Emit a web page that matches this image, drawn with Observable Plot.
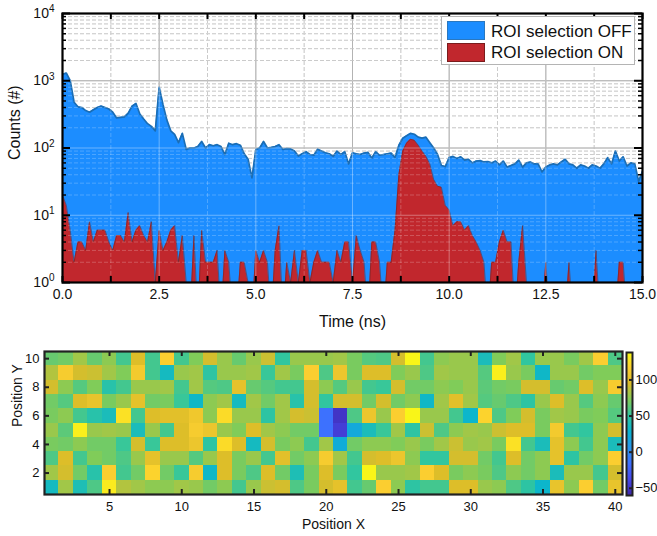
<!DOCTYPE html>
<html><head><meta charset="utf-8">
<script src="https://cdn.jsdelivr.net/npm/d3@7"></script>
<script src="https://cdn.jsdelivr.net/npm/@observablehq/plot@0.6"></script>
<style>
body{margin:0;background:#fff;font-family:"Liberation Sans",Arial,sans-serif;}
#wrap{position:relative;width:657px;height:536px;overflow:hidden;}
#top{position:absolute;left:0;top:0;}
#bottom{position:absolute;left:0;top:336px;}
#cbar{position:absolute;left:612px;top:336px;}
#legend{position:absolute;left:441px;top:16px;width:194px;height:49px;border:1px solid #b4b4b4;background:#fff;box-sizing:border-box;}
#legend .sw{position:absolute;left:5px;width:38px;height:19px;box-sizing:border-box;}
#legend .lb{position:absolute;left:49px;font-size:17px;line-height:19px;color:#111;white-space:nowrap;}
</style></head><body>
<div id="wrap">
  <div id="top"></div>
  <div id="bottom"></div>
  <div id="cbar"></div>
  <div id="legend">
    <div class="sw" style="top:4px;background:#1c8dff;border:1px solid #2a78c0"></div>
    <div class="lb" style="top:5px">ROI selection OFF</div>
    <div class="sw" style="top:26px;background:#c1272d;border:1px solid #7a1c1c"></div>
    <div class="lb" style="top:26px">ROI selection ON</div>
  </div>
</div>
<script>
// ---------- top panel data: time bins (ns) and counts ----------
const timeBins = d3.range(151).map(i => i / 10);
const countsOff = [
  1250,1300,1000,480,410,400,360,340,370,400,
  420,400,380,340,280,285,290,330,420,460,
  320,270,230,210,180,800,440,260,180,160,
  120,165,95,100,100,105,125,100,112,108,
  112,105,80,118,112,116,110,82,68,36,
  95,100,125,100,102,105,112,95,98,97,
  90,76,82,88,80,78,96,90,85,82,
  75,90,80,88,58,85,82,80,84,86,
  71,88,78,80,82,84,72,110,140,152,
  165,160,145,140,145,120,100,80,55,53,
  72,75,70,74,66,68,60,64,65,62,
  63,60,64,56,64,52,55,58,66,52,
  60,62,58,58,44,52,56,58,56,62,
  68,58,56,50,56,54,50,56,54,50,
  58,72,58,90,64,74,54,60,58,32,
  45
];
const countsOn = [
  20,14,6,2,4,4,3,8,4,6,
  6,6,4,3,5,5,4,11,4,6,
  7,5,4,8,1,6,3,4,6,7,
  2,5,1,0,5,0,6,2,2,2,
  3,0,3,2,0,0,2,2,1,0,
  3,2,3,2,0,3,7,0,2,1,
  3,1,3,3,1,2,3,2,2,2,
  1,3,2,4,4,1,5,3,2,0,
  4,4,2,0,2,2,6,40,90,118,
  135,130,110,90,75,58,34,27,26,14,
  12,7,8,8,6,7,5,4,3,2,
  0,2,2,4,6,4,4,0,2,7,
  1,0,0,0,0,2,0,0,0,0,
  0,2,0,0,0,0,0,0,3,0,
  0,0,0,0,2,2,0,0,0,0,
  0
];
const xMajorTicks = [0, 2.5, 5, 7.5, 10, 12.5, 15];
const xMinorTicks = [1.25, 3.75, 6.25, 8.75, 11.25, 13.75];
const yMajorTicks = [1, 10, 100, 1000, 10000];
const yMinorTicks = [1, 10, 100, 1000].flatMap(d => [2,3,4,5,6,7,8,9].map(m => m * d));

// ---------- bottom panel data: heat map rows (Position Y = 1 .. 10) ----------
const posX = d3.range(1, 41);
const posY = d3.range(1, 11);
const row1  = [35,80,40,58,130,84,80,75,75,80,78,68,75,55,78,90,92,58,70,92,100,55,65,115,75,48,55,55,95,95,78,75,58,48,30,102,75,115,68,102];
const row2  = [80,92,68,45,115,55,68,118,68,52,112,32,95,70,58,95,68,40,70,95,70,50,135,78,78,80,115,95,70,75,70,58,75,68,75,38,78,78,55,92];
const row3  = [58,95,55,72,68,58,78,100,78,78,60,78,95,70,78,55,98,68,75,112,80,55,92,95,105,75,50,50,92,92,68,55,95,68,75,100,48,68,75,115];
const row4  = [70,68,75,68,68,52,92,52,95,95,105,48,122,95,35,92,70,75,55,80,22,68,75,75,72,78,70,80,90,78,80,70,125,55,38,100,75,55,75,38];
const row5  = [78,62,132,78,80,78,38,78,55,95,112,105,78,72,95,80,75,68,68,-15,-45,20,38,52,80,48,90,58,75,80,78,90,95,95,70,110,55,50,75,92];
const row6  = [70,75,55,45,38,125,55,95,98,98,108,75,122,78,78,48,80,92,90,-15,-50,58,105,78,115,135,78,78,55,30,118,58,72,92,70,80,78,70,72,60];
const row7  = [68,60,95,102,70,78,100,68,70,52,32,75,80,35,80,68,80,45,92,50,92,92,68,92,68,75,32,80,98,80,60,65,58,48,78,95,78,60,75,65];
const row8  = [92,75,60,72,45,55,78,78,80,55,80,60,58,100,65,60,55,55,92,75,60,78,55,52,92,68,68,75,72,78,62,68,70,92,92,65,68,95,78,112];
const row9  = [84,112,92,90,80,72,110,55,35,78,80,48,78,78,80,52,80,70,115,58,105,70,95,95,72,78,58,80,78,78,60,132,78,70,32,78,78,68,72,72];
const row10 = [65,68,80,65,75,55,95,55,115,55,72,92,78,65,78,90,50,78,78,78,80,70,60,58,92,135,55,75,78,78,38,72,80,50,78,78,70,80,115,58];
const heatRows = [row1,row2,row3,row4,row5,row6,row7,row8,row9,row10];
const heatXTicks = [5,10,15,20,25,30,35,40];
const heatYTicks = [2,4,6,8,10];
const colorbarTicks = [-50, 0, 50, 100];
const colorExtent = [-60, 138];
const parula = ["#3e26a8","#4747eb","#3e6fff","#2796eb","#08b4d0","#31c69f","#80cc59","#dcbd29","#fccf30","#f9fb14"];

// ---------- shared ----------
const FONT = "Liberation Sans, Arial, Helvetica, sans-serif";
const colorOpts = {
  type: "linear",
  domain: parula.map((_, i) => colorExtent[0] + i * (colorExtent[1] - colorExtent[0]) / (parula.length - 1)),
  range: parula,
  clamp: true
};

// ---------- top plot ----------
const series = timeBins.map((t, i) => ({t, off: countsOff[i], on: countsOn[i]}));
const FLOOR = 0.3;
const topW = 657, topH = 336, tML = 62, tMR = 15, tMT = 13, tMB = 54;
const tInnerW = topW - tML - tMR, tInnerH = topH - tMT - tMB;

const topPlot = Plot.plot({
  width: topW, height: topH,
  marginLeft: tML, marginRight: tMR, marginTop: tMT, marginBottom: tMB,
  style: {fontFamily: FONT, fontSize: "14px", color: "#111", background: "#fff", overflow: "visible"},
  x: {domain: [0, 15]},
  y: {type: "log", domain: [1, 10000]},
  marks: [
    Plot.ruleY(yMinorTicks, {stroke: "#bdbdbd", strokeDasharray: "4,2"}),
    Plot.ruleX(xMinorTicks, {stroke: "#bdbdbd", strokeDasharray: "4,2"}),
    Plot.ruleY(yMajorTicks, {stroke: "#8a8a8a"}),
    Plot.ruleX(xMajorTicks, {stroke: "#8a8a8a"}),
    Plot.areaY(series, {x: "t", y1: FLOOR, y2: d => Math.max(d.off, FLOOR), fill: "#1c8dff", clip: true}),
    Plot.lineY(series, {x: "t", y: "off", stroke: "#1a6db5", strokeWidth: 1.7, clip: true}),
    Plot.areaY(series, {x: "t", y1: FLOOR, y2: d => Math.max(d.on, FLOOR), fill: "#c1272d", clip: true}),
    Plot.lineY(series, {x: "t", y: d => Math.max(d.on, FLOOR), stroke: "#6e2626", strokeWidth: 1, strokeOpacity: 0.55, clip: true}),
    // grid seen through the filled areas
    Plot.ruleY(yMinorTicks, {stroke: "#ffffff", strokeOpacity: 0.22, strokeDasharray: "4,2"}),
    Plot.ruleX(xMinorTicks, {stroke: "#ffffff", strokeOpacity: 0.22, strokeDasharray: "4,2"}),
    Plot.ruleY(yMajorTicks.slice(1, 4), {stroke: "#ffffff", strokeOpacity: 0.35}),
    Plot.ruleX(xMajorTicks.slice(1, 6), {stroke: "#ffffff", strokeOpacity: 0.35}),
    // inward ticks
    Plot.tickX(xMajorTicks.concat(xMinorTicks), {x: d => d, insetTop: tInnerH - 6, stroke: "#000", strokeWidth: 2}),
    Plot.tickX(xMajorTicks.concat(xMinorTicks), {x: d => d, insetBottom: tInnerH - 6, stroke: "#000", strokeWidth: 2}),
    Plot.tickY(yMajorTicks, {y: d => d, insetRight: tInnerW - 8, stroke: "#000", strokeWidth: 2}),
    Plot.tickY(yMajorTicks, {y: d => d, insetLeft: tInnerW - 8, stroke: "#000", strokeWidth: 2}),
    Plot.tickY(yMinorTicks, {y: d => d, insetRight: tInnerW - 4, stroke: "#000", strokeWidth: 1.5}),
    Plot.tickY(yMinorTicks, {y: d => d, insetLeft: tInnerW - 4, stroke: "#000", strokeWidth: 1.5}),
    Plot.frame({stroke: "#000", strokeWidth: 2.2}),
    Plot.axisX(xMajorTicks, {tickSize: 0, tickPadding: 7, tickFormat: d3.format(".1f"), label: null, fontSize: 14}),
    Plot.axisY(yMajorTicks, {tickSize: 0, tickPadding: 8, tickFormat: d => "10^" + Math.round(Math.log10(d)), label: null, fontSize: 14}),
    Plot.text(["Time (ns)"], {frameAnchor: "bottom", dy: 39, fontSize: 16, lineAnchor: "middle", fill: "#111"}),
    Plot.text(["Counts (#)"], {frameAnchor: "left", dx: -48, dy: 12, rotate: -90, fontSize: 16, lineAnchor: "middle", fill: "#111"})
  ]
});
// render superscripts in y tick labels
topPlot.querySelectorAll('g[aria-label="y-axis tick label"] text').forEach(el => {
  const [base, exp] = el.textContent.split("^");
  el.textContent = "";
  const a = document.createElementNS("http://www.w3.org/2000/svg", "tspan");
  a.textContent = base;
  const b = document.createElementNS("http://www.w3.org/2000/svg", "tspan");
  b.textContent = exp;
  b.setAttribute("dy", "-0.55em");
  b.setAttribute("font-size", "10px");
  el.appendChild(a); el.appendChild(b);
});
document.getElementById("top").appendChild(topPlot);

// ---------- bottom heat map ----------
const cells = heatRows.flatMap((row, j) => row.map((v, i) => ({x: posX[i], y: posY[j], v})));
const bW = 657, bH = 200, bML = 44, bMR = 35, bMT = 15, bMB = 42;
const bInnerW = bW - bML - bMR, bInnerH = bH - bMT - bMB;
const heatPlot = Plot.plot({
  width: bW, height: bH,
  marginLeft: bML, marginRight: bMR, marginTop: bMT, marginBottom: bMB,
  style: {fontFamily: FONT, fontSize: "13px", color: "#111", background: "transparent", overflow: "visible"},
  x: {domain: [0.5, 40.5]},
  y: {domain: [0.5, 10.5]},
  color: colorOpts,
  marks: [
    Plot.rect(cells, {x1: d => d.x - 0.5, x2: d => d.x + 0.5, y1: d => d.y - 0.5, y2: d => d.y + 0.5, fill: "v", shapeRendering: "crispEdges"}),
    Plot.tickX(heatXTicks, {x: d => d, insetTop: bInnerH - 5, stroke: "#222", strokeWidth: 2}),
    Plot.tickX(heatXTicks, {x: d => d, insetBottom: bInnerH - 5, stroke: "#222", strokeWidth: 2}),
    Plot.tickY(heatYTicks, {y: d => d, insetRight: bInnerW - 5, stroke: "#222", strokeWidth: 2}),
    Plot.tickY(heatYTicks, {y: d => d, insetLeft: bInnerW - 5, stroke: "#222", strokeWidth: 2}),
    Plot.frame({stroke: "#222", strokeWidth: 2.2}),
    Plot.axisX(heatXTicks, {tickSize: 0, tickPadding: 7, label: null, fontSize: 13}),
    Plot.axisY(heatYTicks, {tickSize: 0, tickPadding: 5, label: null, fontSize: 13}),
    Plot.text(["Position X"], {frameAnchor: "bottom", dy: 30, fontSize: 14, lineAnchor: "middle", fill: "#111"}),
    Plot.text(["Position Y"], {frameAnchor: "left", dx: -27, dy: 4, rotate: -90, fontSize: 14, lineAnchor: "middle", fill: "#111"})
  ]
});
document.getElementById("bottom").appendChild(heatPlot);

// ---------- colour bar ----------
const barSamples = d3.range(colorExtent[0], colorExtent[1], 1);
const cW = 45, cML = 14, cMR = 25, cMT = 16, cMB = 41;
const cInnerW = cW - cML - cMR;
const cbarPlot = Plot.plot({
  width: cW, height: bH,
  marginLeft: cML, marginRight: cMR, marginTop: cMT, marginBottom: cMB,
  style: {fontFamily: FONT, fontSize: "13px", color: "#111", background: "transparent", overflow: "visible"},
  x: {domain: [0, 1], axis: null},
  y: {domain: colorExtent},
  color: colorOpts,
  marks: [
    Plot.rect(barSamples, {x1: 0, x2: 1, y1: d => d, y2: d => Math.min(d + 1, colorExtent[1]), fill: d => d + 0.5, shapeRendering: "crispEdges"}),
    Plot.tickY(colorbarTicks, {y: d => d, insetLeft: cInnerW - 3, stroke: "#222", strokeWidth: 2}),
    Plot.frame({stroke: "#222", strokeWidth: 2}),
    Plot.axisY(colorbarTicks, {anchor: "right", tickSize: 0, tickPadding: 3, label: null, fontSize: 13})
  ]
});
document.getElementById("cbar").appendChild(cbarPlot);
</script>
</body></html>
